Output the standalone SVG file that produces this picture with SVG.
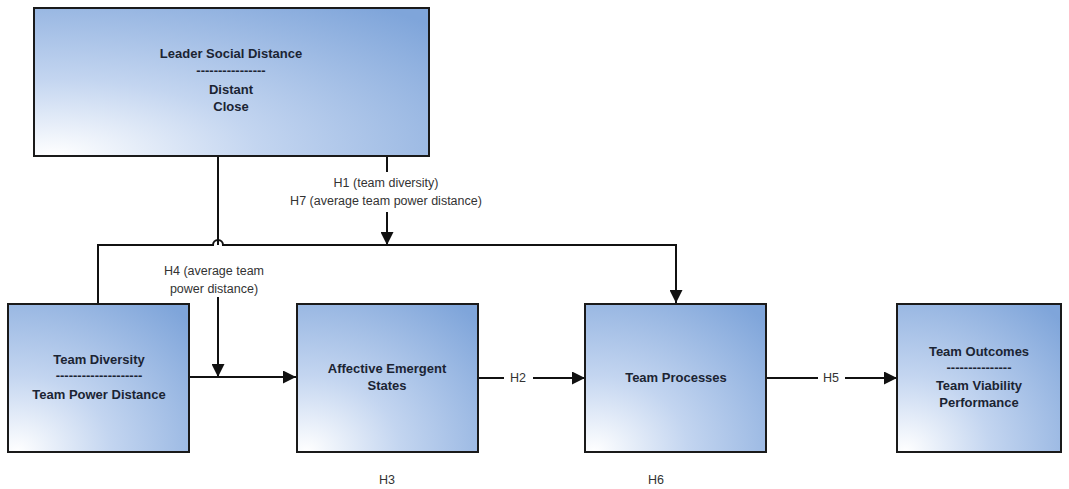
<svg xmlns="http://www.w3.org/2000/svg" width="1069" height="489" viewBox="0 0 1069 489">
<defs>
<radialGradient id="g" cx="0.05" cy="1" r="1.3" fx="0.05" fy="1">
<stop offset="0" stop-color="#ffffff"/>
<stop offset="0.4" stop-color="#c3d5f0"/>
<stop offset="1" stop-color="#7fa5da"/>
</radialGradient>
<marker id="ahb" viewBox="0 0 12 12" refX="12" refY="6" markerWidth="13" markerHeight="13" markerUnits="userSpaceOnUse" orient="auto">
<path d="M0,0 L12,6 L0,12 Z" fill="#111"/>
</marker>
</defs>
<style>
.box{fill:url(#g);stroke:#1a1a1a;stroke-width:2}
.t{font-family:"Liberation Sans",Arial,sans-serif;font-size:13px;font-weight:bold;fill:#1b2433;text-anchor:middle}
.l{font-family:"Liberation Sans",Arial,sans-serif;font-size:12.5px;fill:#333;text-anchor:middle}
.c{fill:none;stroke:#111;stroke-width:2}
</style>
<rect width="1069" height="489" fill="#fff"/>
<g id="connectors">
<path class="c" d="M218,156 V245"/>
<path class="c" d="M218,297 V377" marker-end="url(#ahb)"/>
<path class="c" d="M387,156 V172"/>
<path class="c" d="M387,212 V245" marker-end="url(#ahb)"/>
<path class="c" d="M98,303 V245 H213 A5,5 0 0 1 223,245 H676 V303" marker-end="url(#ahb)"/>
<path class="c" d="M190,377 H296" marker-end="url(#ahb)"/>
<path class="c" d="M478,378 H504"/>
<path class="c" d="M533,378 H585" marker-end="url(#ahb)"/>
<path class="c" d="M767,378 H818"/>
<path class="c" d="M845,378 H897" marker-end="url(#ahb)"/>
</g>
<g id="labels">
<text class="l" x="386" y="187">H1 (team diversity)</text>
<text class="l" x="386" y="205">H7 (average team power distance)</text>
<text class="l" x="214" y="275">H4 (average team</text>
<text class="l" x="214" y="293">power distance)</text>
<text class="l" x="518" y="382">H2</text>
<text class="l" x="831" y="382">H5</text>
<text class="l" x="387" y="484">H3</text>
<text class="l" x="656" y="484">H6</text>
</g>
<g id="leader">
<rect class="box" x="34" y="8" width="395" height="148"/>
<text class="t" x="231" y="58">Leader Social Distance</text>
<text class="t" x="231" y="75">----------------</text>
<text class="t" x="231" y="94">Distant</text>
<text class="t" x="231" y="111">Close</text>
</g>
<g id="diversity">
<rect class="box" x="8" y="304" width="181" height="148"/>
<text class="t" x="99" y="364">Team Diversity</text>
<text class="t" x="99" y="380">--------------------</text>
<text class="t" x="99" y="399">Team Power Distance</text>
</g>
<g id="affective">
<rect class="box" x="297" y="304" width="181" height="148"/>
<text class="t" x="387" y="373">Affective Emergent</text>
<text class="t" x="387" y="390">States</text>
</g>
<g id="processes">
<rect class="box" x="585" y="304" width="181" height="148"/>
<text class="t" x="676" y="382">Team Processes</text>
</g>
<g id="outcomes">
<rect class="box" x="897" y="304" width="164" height="148"/>
<text class="t" x="979" y="356">Team Outcomes</text>
<text class="t" x="979" y="372">---------------</text>
<text class="t" x="979" y="390">Team Viability</text>
<text class="t" x="979" y="407">Performance</text>
</g>
</svg>
